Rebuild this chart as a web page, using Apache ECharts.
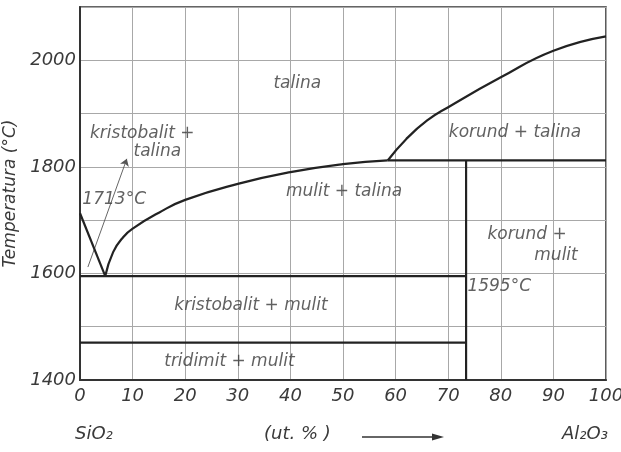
<!DOCTYPE html>
<html>
<head>
<meta charset="utf-8">
<script src="https://cdn.jsdelivr.net/npm/echarts@6/dist/echarts.min.js"></script>
<style>html,body{margin:0;padding:0;background:#fff}#c{width:621px;height:452px}</style>
</head>
<body>
<div id="c"></div>
<script>
// x ticks (wt.% Al2O3) and y ticks (°C)
const xTicks = [0,10,20,30,40,50,60,70,80,90,100];
const yTickLabels = [1400,1600,1800,2000];

// phase boundaries [wt.% Al2O3, °C]
const liquidusSilica   = [[0,1713],[4.8,1595]];
const liquidusMullite  = [[4.8,1595],[6.3,1640],[8.2,1668],[10.3,1686],[15,1714],[20,1738],[30,1768],[40,1790],[50,1805],[58.5,1812]];
const liquidusCorundum = [[58.5,1812],[62,1852],[66,1887],[70,1912],[80,1968],[90,2018],[100,2045]];
const mulliteSolidus   = [[58.5,1812],[100,1812]];
const mulliteLine      = [[73.4,1812],[73.4,1400]];
const eutecticLine     = [[0,1595],[73.4,1595]];
const tridymiteLine    = [[0,1470],[73.4,1470]];
const pointerLine      = [[1.5,1612],[8.9,1815]];

// region / annotation labels [x, y, text, align]
const regionLabels = [
  [41.3,1957,'talina','center'],
  [1.9,1863,'kristobalit +','left'],
  [14.7,1828,'talina','center'],
  [6.5,1738,'1713°C','center'],
  [50.2,1753,'mulit + talina','center'],
  [82.7,1865,'korund + talina','center'],
  [85,1672,'korund +','center'],
  [90.5,1634,'mulit','center'],
  [79.7,1576,'1595°C','center'],
  [32.5,1540,'kristobalit + mulit','center'],
  [28.4,1434,'tridimit + mulit','center']
];

const FONT = 'DejaVu Sans';
const TXT = '#3a3a3a';
const LINE = '#222';

const chart = echarts.init(document.getElementById('c'), null, {renderer:'canvas'});

function boundary(data, smooth){
  return {type:'line', data:data, symbol:'none', smooth:smooth||false,
    lineStyle:{color:LINE, width:2.2}, silent:true, z:5};
}

chart.setOption({
  animation:false,
  backgroundColor:'#fff',
  grid:{left:80, right:15, top:7, bottom:72, containLabel:false, outerBoundsMode:'none',
    show:true, borderColor:'#333', borderWidth:1.6, backgroundColor:'transparent'},
  xAxis:{
    type:'value', min:0, max:100, interval:10,
    axisLine:{show:true, lineStyle:{color:'#333', width:2}},
    axisTick:{show:false},
    axisLabel:{color:TXT, fontFamily:FONT, fontStyle:'italic', fontSize:18, margin:7,
      formatter:v => xTicks.includes(v) ? String(v) : ''},
    splitLine:{show:true, lineStyle:{color:'#a8a8a8', width:1}}
  },
  yAxis:{
    type:'value', min:1400, max:2100, interval:100,
    name:'Temperatura (°C)', nameLocation:'middle', nameGap:57, nameRotate:90,
    nameTextStyle:{color:TXT, fontFamily:FONT, fontStyle:'italic', fontSize:17},
    axisLine:{show:true, lineStyle:{color:'#333', width:2}},
    axisTick:{show:false},
    axisLabel:{color:TXT, fontFamily:FONT, fontStyle:'italic', fontSize:18, margin:4,
      formatter:v => yTickLabels.includes(v) ? String(v) : ''},
    splitLine:{show:true, lineStyle:{color:'#a8a8a8', width:1}}
  },
  series:[
    boundary(liquidusSilica),
    boundary(liquidusMullite, 0.5),
    boundary(liquidusCorundum, 0.5),
    boundary(mulliteSolidus),
    boundary(mulliteLine),
    boundary(eutecticLine),
    boundary(tridymiteLine),
    {type:'lines', coordinateSystem:'cartesian2d', silent:true, z:4,
      symbol:['none','arrow'], symbolSize:7,
      lineStyle:{color:'#555', width:0.9, opacity:1},
      data:[{coords:pointerLine}]},
    {type:'scatter', symbolSize:0, silent:true, z:6,
      data:regionLabels.map(r => ({value:[r[0],r[1]], name:r[2],
        label:{show:true, position:'inside', formatter:r[2], align:r[3],
          color:TXT, fontFamily:FONT, fontStyle:'italic', fontSize:17}}))}
  ],
  graphic:[
    {type:'text', left:75, top:425, style:{text:'SiO₂', font:'italic 18px "DejaVu Sans"', fill:TXT}},
    {type:'text', left:264, top:425, style:{text:'(ut. % )', font:'italic 18px "DejaVu Sans"', fill:TXT}},
    {type:'line', shape:{x1:362, y1:437, x2:436, y2:437}, style:{stroke:'#333', lineWidth:1.3}},
    {type:'polygon', shape:{points:[[444,437],[432,433.5],[432,440.5]]}, style:{fill:'#333'}},
    {type:'text', left:562, top:425, style:{text:'Al₂O₃', font:'italic 18px "DejaVu Sans"', fill:TXT}}
  ]
});
</script>
</body>
</html>
